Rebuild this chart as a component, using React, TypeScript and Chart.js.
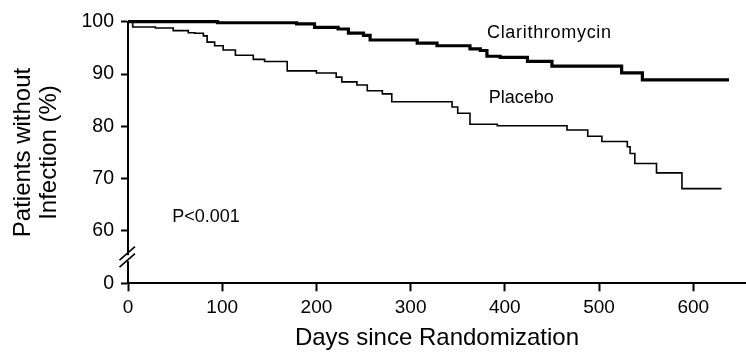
import React, { useEffect, useRef } from "react";
import { Chart, registerables } from "chart.js";

Chart.register(...registerables);

// Kaplan-Meier estimates: day of event and survival (%) after it
const clariDays = [0, 95, 179, 198, 223, 234, 250, 257, 307, 328, 363, 374, 381, 395, 424, 450, 524, 546, 638];
const clariValues = [100, 99.8, 99.6, 98.9, 98.6, 97.8, 97.4, 96.5, 95.9, 95.4, 94.8, 94.5, 93.4, 93.2, 92.4, 91.5, 90.2, 88.9, 88.9];

const placeboDays = [0, 5, 29, 48, 64, 71, 80, 84, 92, 101, 114, 133, 145, 169, 200, 221, 227, 243, 254, 270, 280, 344, 350, 363, 392, 466, 488, 503, 530, 533, 538, 561, 588, 630];
const placeboValues = [100, 99.0, 98.8, 98.3, 97.9, 97.8, 97.3, 96.1, 95.4, 94.6, 93.6, 92.8, 92.4, 90.6, 90.2, 89.4, 88.5, 87.9, 86.8, 86.2, 84.7, 83.7, 82.5, 80.4, 80.1, 79.3, 78.1, 77.1, 76.1, 74.8, 72.9, 71.1, 68.1, 68.1];

const xTickValues = [0, 100, 200, 300, 400, 500, 600];
const yTickValues = [50, 60, 70, 80, 90, 100];
const yTickLabels = ["0", "60", "70", "80", "90", "100"];

const seriesNames = ["Clarithromycin", "Placebo"];
const pValueText = "P<0.001";
const xTitle = "Days since Randomization";
const yTitle = ["Patients without", "Infection (%)"];

// label anchors in data coordinates [day, %]
const labelAnchors: [number, number][] = [[381, 97.8], [383, 85.4], [47, 62.6]];

const FONT = "'Liberation Sans', Arial, Helvetica, sans-serif";

const annotationPlugin = {
  id: "annots",
  afterDraw(chart: any) {
    const { ctx, scales } = chart;
    const x = scales.x;
    const y = scales.y;
    ctx.save();
    ctx.fillStyle = "#000";
    ctx.textBaseline = "middle";
    ctx.textAlign = "left";
    ctx.font = `18px ${FONT}`;
    const texts = [seriesNames[0], seriesNames[1], pValueText];
    texts.forEach((t, i) => {
      const [d, v] = labelAnchors[i];
      (ctx as any).letterSpacing = i === 0 ? "0.7px" : "0px";
      ctx.fillText(t, x.getPixelForValue(d), y.getPixelForValue(v));
    });
    (ctx as any).letterSpacing = "0px";

    // axis break marks between 0 and 60
    const ax = chart.chartArea.left;
    const yMid = (y.getPixelForValue(50) + y.getPixelForValue(60)) / 2;
    ctx.fillStyle = "#fff";
    ctx.fillRect(ax - 2, yMid - 2, 4, 6);
    ctx.strokeStyle = "#000";
    ctx.lineWidth = 1.6;
    ctx.beginPath();
    ctx.moveTo(ax - 8.5, yMid + 10);
    ctx.lineTo(ax + 7, yMid - 3.5);
    ctx.moveTo(ax - 8.5, yMid + 3);
    ctx.lineTo(ax + 7, yMid - 10.5);
    ctx.stroke();
    ctx.restore();
  },
};

export default function App() {
  const ref = useRef<HTMLCanvasElement | null>(null);
  useEffect(() => {
    document.body.style.margin = "0";
    const canvas = ref.current;
    if (!canvas) return;
    const chart = new Chart(canvas, {
      type: "line",
      data: {
        datasets: [
          {
            label: seriesNames[0],
            data: clariDays.map((d, i) => ({ x: d, y: clariValues[i] })),
            borderColor: "#000",
            borderWidth: 3.2,
            pointRadius: 0,
            stepped: "before",
            fill: false,
            clip: 6,
          },
          {
            label: seriesNames[1],
            data: placeboDays.map((d, i) => ({ x: d, y: placeboValues[i] })),
            borderColor: "#000",
            borderWidth: 1.6,
            pointRadius: 0,
            stepped: "before",
            fill: false,
            clip: 6,
          },
        ],
      },
      options: {
        responsive: false,
        animation: false,
        events: [],
        layout: { padding: { left: 0, top: 21.7, right: 0, bottom: 0 } },
        plugins: { legend: { display: false }, tooltip: { enabled: false } },
        scales: {
          x: {
            type: "linear",
            min: 0,
            max: 656,
            afterBuildTicks: (s: any) => {
              s.ticks = xTickValues.map((v) => ({ value: v }));
            },
            afterFit: (s: any) => {
              s.height = 72.7;
            },
            ticks: {
              color: "#000",
              font: { family: FONT, size: 19 },
              padding: 5,
              maxRotation: 0,
            },
            grid: { drawOnChartArea: false, drawTicks: true, tickLength: 8, tickWidth: 2, tickColor: "#000" },
            border: { display: true, color: "#000", width: 2 },
            title: {
              display: true,
              text: xTitle,
              color: "#000",
              font: { family: FONT, size: 24, lineHeight: 1.2 },
              padding: { top: 0, bottom: 3 },
            },
          },
          y: {
            type: "linear",
            min: 50,
            max: 100,
            afterBuildTicks: (s: any) => {
              s.ticks = yTickValues.map((v) => ({ value: v }));
            },
            afterFit: (s: any) => {
              s.width = 128;
            },
            ticks: {
              color: "#000",
              font: { family: FONT, size: 19.5 },
              padding: 7,
              callback: (v: any) => {
                const i = yTickValues.indexOf(Number(v));
                return i >= 0 ? yTickLabels[i] : "";
              },
            },
            grid: { drawOnChartArea: false, drawTicks: true, tickLength: 7, tickWidth: 2, tickColor: "#000" },
            border: { display: true, color: "#000", width: 2 },
            title: {
              display: true,
              text: yTitle,
              color: "#000",
              font: { family: FONT, size: 24, lineHeight: 1.083 },
              padding: { top: 10, bottom: 0 },
            },
          },
        },
      },
      plugins: [annotationPlugin],
    });
    return () => chart.destroy();
  }, []);
  return (
    <div style={{ width: 746, height: 356 }}>
      <canvas ref={ref} width={746} height={356} />
    </div>
  );
}
